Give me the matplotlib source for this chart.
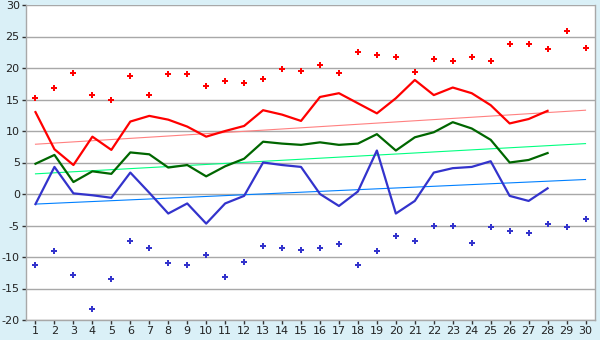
import matplotlib
matplotlib.use("Agg")
import matplotlib.pyplot as plt
import numpy as np

plt.rcParams["axes.unicode_minus"] = False

days = list(range(1, 31))
max_temp = [13.0, 7.1, 4.6, 9.1, 7.0, 11.5, 12.4, 11.8, 10.7, 9.1, 10.0, 10.8, 13.3, 12.6,
            11.6, 15.4, 16.0, 14.4, 12.8, 15.2, 18.1, 15.7, 16.9, 16.0, 14.1, 11.2, 11.9, 13.2]
mean_temp = [4.8, 6.2, 1.9, 3.6, 3.2, 6.6, 6.3, 4.2, 4.6, 2.8, 4.4, 5.6, 8.3, 8.0,
             7.8, 8.2, 7.8, 8.0, 9.5, 6.9, 9.0, 9.8, 11.4, 10.4, 8.6, 5.0, 5.4, 6.5]
min_temp = [-1.6, 4.3, 0.1, -0.2, -0.6, 3.4, 0.2, -3.1, -1.5, -4.7, -1.5, -0.3, 5.0, 4.6,
            4.3, 0.0, -1.9, 0.4, 6.9, -3.1, -1.1, 3.4, 4.1, 4.3, 5.2, -0.3, -1.1, 0.9]
record_max = [15.2, 16.8, 19.2, 15.7, 14.9, 18.7, 15.7, 19.0, 19.0, 17.1, 18.0, 17.6, 18.2, 19.9, 19.6,
              20.4, 19.2, 22.6, 22.0, 21.7, 19.3, 21.4, 21.1, 21.7, 21.1, 23.8, 23.8, 23.0, 25.8, 23.1]
record_min = [-11.3, -9.1, -12.9, -18.3, -13.5, -7.5, -8.6, -11.0, -11.3, -9.7, -13.1, -10.8, -8.3, -8.6, -8.9,
              -8.5, -7.9, -11.2, -9.1, -6.7, -7.5, -5.0, -5.0, -7.7, -5.3, -5.8, -6.2, -4.8, -5.3, -4.0]
trend_days = [1, 30]
trend_max = [7.9, 13.3]
trend_mean = [3.2, 8.0]
trend_min = [-1.6, 2.3]
yticks = list(range(-20, 31, 5))

bg = "#daf0f7"
fig = plt.figure(figsize=(6, 3.4), dpi=100, facecolor=bg)
ax = fig.add_axes([26/600, 1-320/340, (595-26)/600, (320-5)/340])
ax.set_facecolor("white")

n = len(max_temp)
ax.plot(trend_days, trend_max, color="#ff8080", lw=0.8, zorder=2)
ax.plot(trend_days, trend_mean, color="#00ff80", lw=0.8, zorder=2)
ax.plot(trend_days, trend_min, color="#0080ff", lw=0.8, zorder=2)

ax.plot(days[:n], max_temp, color="#ff0000", lw=1.6, zorder=3)
ax.plot(days[:n], mean_temp, color="#006600", lw=1.6, zorder=3)
ax.plot(days[:n], min_temp, color="#3333cc", lw=1.6, zorder=3)

ax.plot(days, record_max, linestyle="none", marker="P", ms=4.5, color="#ff0000",
        markeredgewidth=0, zorder=4)
ax.plot(days, record_min, linestyle="none", marker="P", ms=4.5, color="#3333cc",
        markeredgewidth=0, zorder=4)

ax.set_xlim(0.5, 30.5)
ax.set_ylim(-20, 30)
ax.set_yticks(yticks)
ax.set_xticks(days)
ax.grid(axis="y", color="#a8a8a8", lw=1.0, zorder=1)
ax.set_axisbelow(True)
for s in ["left", "bottom", "right"]:
    ax.spines[s].set_color("#a8a8a8")
    ax.spines[s].set_linewidth(1.0)
ax.spines["top"].set_visible(False)
ax.tick_params(axis="both", labelcolor="#222222", labelsize=8, length=3, width=1,
               direction="out", pad=1.5, color="#333333")

fig.savefig("out.png", dpi=100, facecolor=bg)
